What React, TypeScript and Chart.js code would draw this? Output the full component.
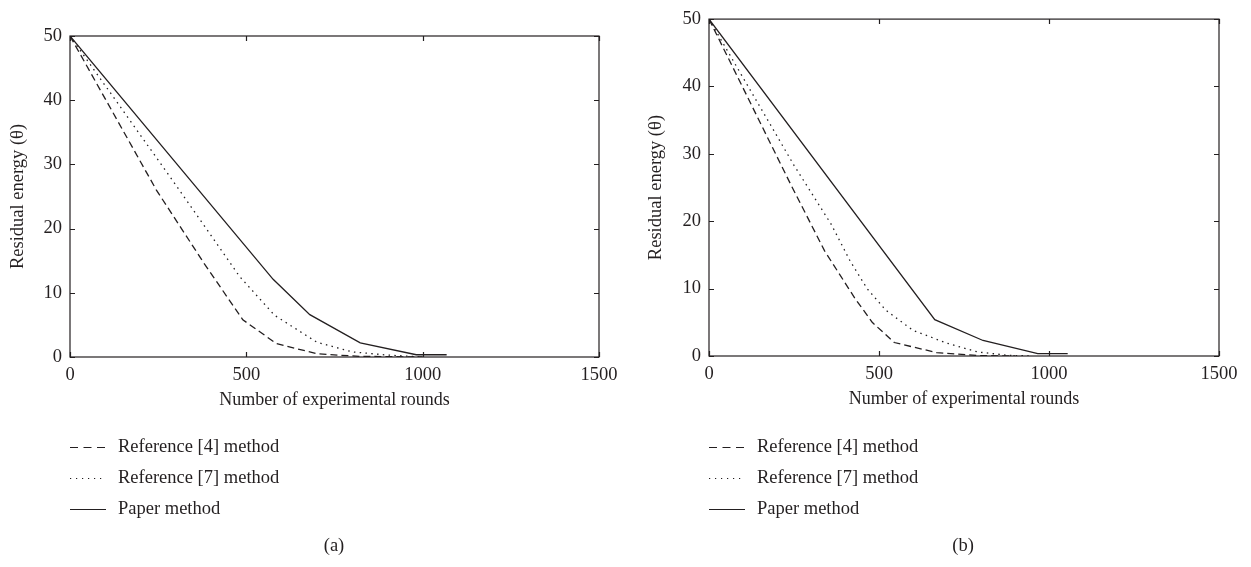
import React, { useEffect, useRef } from "react";
import { Chart, registerables } from "chart.js";

Chart.register(...registerables);

// ---------- data ----------
const xTickValues = [0, 500, 1000, 1500];
const yTickValues = [0, 10, 20, 30, 40, 50];
const seriesNames = ["Reference [4] method", "Reference [7] method", "Paper method"];
const captions = ["(a)", "(b)"];
const xAxisTitle = "Number of experimental rounds";
const yAxisTitle = "Residual energy (θ)";

// panel (a)
const ref4A_x = [0, 245, 380, 490, 585, 700, 820, 1000];
const ref4A_y = [50, 26, 14.6, 5.8, 2.1, 0.5, 0.1, 0];
const ref7A_x = [0, 300, 380, 480, 580, 700, 800, 900, 1000];
const ref7A_y = [50, 26.8, 20.5, 12.6, 6.5, 2.3, 0.8, 0.3, 0];
const paperA_x = [0, 576, 680, 823, 982, 1068];
const paperA_y = [50, 12.1, 6.6, 2.2, 0.35, 0.35];

// panel (b)
const ref4B_x = [0, 240, 340, 430, 480, 545, 670, 800, 900];
const ref4B_y = [50, 25.5, 15.6, 8.5, 5.0, 2.0, 0.5, 0.05, 0];
const ref7B_x = [0, 250, 360, 415, 465, 520, 600, 700, 790, 880, 950];
const ref7B_y = [50, 28.3, 19.5, 14.1, 10, 6.8, 3.8, 1.9, 0.6, 0.1, 0];
const paperB_x = [0, 664, 806, 967, 1055];
const paperB_y = [50, 5.4, 2.3, 0.35, 0.35];

// ---------- styles ----------
const INK = "#231f20";
const FONT = "'Liberation Serif', 'Times New Roman', serif";
const dashes = [[7, 4], [1.5, 4.3], []];
const legendDashes = [[8, 5.5], [1.2, 4.8], []];

const pts = (xs: number[], ys: number[]) => xs.map((x, i) => ({ x, y: ys[i] }));

const framePlugin = {
  id: "frame",
  afterDatasetsDraw(chart: any) {
    const { ctx, chartArea: a, scales } = chart;
    ctx.save();
    ctx.strokeStyle = INK;
    ctx.lineWidth = 1.2;
    ctx.strokeRect(a.left, a.top, a.right - a.left, a.bottom - a.top);
    const t = 5;
    ctx.beginPath();
    scales.x.ticks.forEach((tk: any) => {
      const p = Math.round(scales.x.getPixelForValue(tk.value)) + 0.5;
      ctx.moveTo(p, a.bottom); ctx.lineTo(p, a.bottom - t);
      ctx.moveTo(p, a.top); ctx.lineTo(p, a.top + t);
    });
    scales.y.ticks.forEach((tk: any) => {
      const p = Math.round(scales.y.getPixelForValue(tk.value)) + 0.5;
      ctx.moveTo(a.left, p); ctx.lineTo(a.left + t, p);
      ctx.moveTo(a.right, p); ctx.lineTo(a.right - t, p);
    });
    ctx.stroke();
    ctx.restore();
  },
};

const legendPlugin = {
  id: "sideLegend",
  afterDraw(chart: any, _args: any, opts: any) {
    const { ctx } = chart;
    ctx.save();
    ctx.font = `18.5px ${FONT}`;
    ctx.fillStyle = INK;
    ctx.textBaseline = "middle";
    chart.data.datasets.forEach((ds: any, i: number) => {
      const y = opts.rows[i];
      ctx.strokeStyle = INK;
      ctx.lineWidth = 1.2;
      ctx.setLineDash(legendDashes[i]);
      ctx.beginPath();
      ctx.moveTo(opts.x0, y + 0.5);
      ctx.lineTo(opts.x1, y + 0.5);
      ctx.stroke();
      ctx.setLineDash([]);
      ctx.textAlign = "left";
      ctx.fillText(ds.label, opts.textX, y);
    });
    ctx.textAlign = "center";
    ctx.fillText(opts.caption, opts.captionX, opts.captionY);
    ctx.restore();
  },
};

type PanelProps = {
  left: number;
  width: number;
  plotLeft: number;
  plotRight: number;
  plotTop: number;
  plotBottom: number;
  series: { x: number[]; y: number[] }[];
  caption: string;
  captionX: number;
};

function Panel(p: PanelProps) {
  const ref = useRef<HTMLCanvasElement | null>(null);
  useEffect(() => {
    const H = 567;
    const xAxisH = 57;
    const chart = new Chart(ref.current as HTMLCanvasElement, {
      type: "line",
      data: {
        datasets: p.series.map((s, i) => ({
          label: seriesNames[i],
          data: pts(s.x, s.y),
          borderColor: INK,
          borderWidth: 1.3,
          borderDash: dashes[i],
          pointRadius: 0,
          tension: 0,
          fill: false,
        })),
      },
      options: {
        animation: false,
        responsive: false,
        devicePixelRatio: 1,
        layout: {
          padding: {
            left: 0,
            top: p.plotTop,
            right: p.width - p.plotRight,
            bottom: H - p.plotBottom - xAxisH,
          },
        },
        plugins: {
          legend: { display: false },
          tooltip: { enabled: false },
          sideLegend: {
            rows: [447, 478, 509],
            x0: p.plotLeft,
            x1: p.plotLeft + 36,
            textX: p.plotLeft + 48,
            caption: p.caption,
            captionX: p.captionX,
            captionY: 546,
          },
        } as any,
        scales: {
          x: {
            type: "linear",
            min: 0,
            max: 1500,
            afterBuildTicks: (s: any) => { s.ticks = xTickValues.map((v) => ({ value: v })); },
            afterFit: (s: any) => { s.height = xAxisH; },
            grid: { display: false, drawTicks: false },
            border: { display: false },
            ticks: {
              color: INK,
              font: { family: FONT, size: 18.5 },
              padding: 7,
              maxRotation: 0,
              callback: (v: any) => String(v),
            },
            title: {
              display: true,
              text: xAxisTitle,
              color: INK,
              font: { family: FONT, size: 18 },
              padding: { top: 0, bottom: 3 },
            },
          },
          y: {
            type: "linear",
            min: 0,
            max: 50,
            afterBuildTicks: (s: any) => { s.ticks = yTickValues.map((v) => ({ value: v })); },
            afterFit: (s: any) => { s.width = p.plotLeft; },
            grid: { display: false, drawTicks: false },
            border: { display: false },
            ticks: {
              color: INK,
              font: { family: FONT, size: 18.5 },
              padding: 8,
              callback: (v: any) => String(v),
            },
            title: {
              display: true,
              text: yAxisTitle,
              color: INK,
              font: { family: FONT, size: 18.5 },
              padding: { top: 7, bottom: 0 },
            },
          },
        },
      },
      plugins: [framePlugin, legendPlugin],
    });
    return () => chart.destroy();
  }, []);
  return (
    <canvas
      ref={ref}
      width={p.width}
      height={567}
      style={{ position: "absolute", left: p.left, top: 0, width: p.width, height: 567 }}
    />
  );
}

export default function App() {
  return (
    <div style={{ position: "fixed", left: 0, top: 0, width: 1251, height: 567, background: "#fff" }}>
      <Panel
        left={0}
        width={625}
        plotLeft={70}
        plotRight={599}
        plotTop={36}
        plotBottom={357}
        series={[
          { x: ref4A_x, y: ref4A_y },
          { x: ref7A_x, y: ref7A_y },
          { x: paperA_x, y: paperA_y },
        ]}
        caption={captions[0]}
        captionX={334}
      />
      <Panel
        left={638}
        width={613}
        plotLeft={71}
        plotRight={581}
        plotTop={15}
        plotBottom={356}
        series={[
          { x: ref4B_x, y: ref4B_y },
          { x: ref7B_x, y: ref7B_y },
          { x: paperB_x, y: paperB_y },
        ]}
        caption={captions[1]}
        captionX={325}
      />
    </div>
  );
}
